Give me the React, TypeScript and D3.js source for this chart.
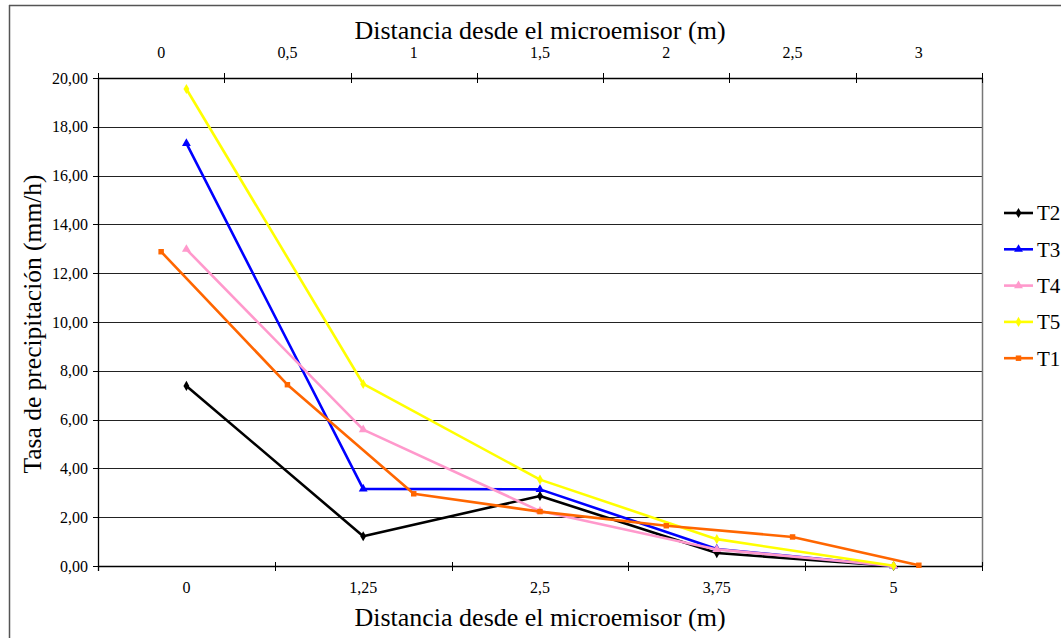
import React from "react";
import * as d3 from "d3";

// Bottom (primary) category axis: distance from the micro-sprinkler
const bottomCategories = ["0", "1,25", "2,5", "3,75", "5"];
// Top (secondary) category axis
const topCategories = ["0", "0,5", "1", "1,5", "2", "2,5", "3"];

// Precipitation rate (mm/h) per treatment
const t2Values = [7.38, 1.22, 2.87, 0.53, 0.0];
const t3Values = [17.32, 3.16, 3.14, 0.7, 0.0];
const t4Values = [12.98, 5.59, 2.25, 0.68, 0.0];
const t5Values = [19.55, 7.46, 3.54, 1.1, 0.01];
const t1Values = [12.88, 7.43, 2.96, 2.23, 1.65, 1.19, 0.03];

const yTicks = [0, 2, 4, 6, 8, 10, 12, 14, 16, 18, 20];

type Shape = "diamond" | "triangle" | "square";

interface Series {
  name: string;
  values: number[];
  color: string;
  shape: Shape;
  axis: "bottom" | "top";
}

const seriesList: Series[] = [
  { name: "T2", values: t2Values, color: "#000000", shape: "diamond", axis: "bottom" },
  { name: "T3", values: t3Values, color: "#0000FF", shape: "triangle", axis: "bottom" },
  { name: "T4", values: t4Values, color: "#FF99CC", shape: "triangle", axis: "bottom" },
  { name: "T5", values: t5Values, color: "#FFFF00", shape: "diamond", axis: "bottom" },
  { name: "T1", values: t1Values, color: "#FF6600", shape: "square", axis: "top" },
];

const W = 1061;
const H = 638;
const plot = { left: 98, right: 982, top: 78, bottom: 566 };
const serif = { fontFamily: "Liberation Serif" };

const fmt = (v: number) => v.toFixed(2).replace(".", ",");

const symbolFor = (shape: Shape) => {
  if (shape === "diamond") return d3.symbol(d3.symbolDiamond, 30)();
  if (shape === "triangle") return d3.symbol(d3.symbolTriangle, 34)();
  return d3.symbol(d3.symbolSquare, 30)();
};

export default function App() {
  const xBottom = d3
    .scaleBand<string>()
    .domain(bottomCategories)
    .range([plot.left, plot.right]);
  const xTop = d3
    .scaleBand<string>()
    .domain(topCategories)
    .range([plot.left, plot.right]);
  const y = d3.scaleLinear().domain([0, 20]).range([plot.bottom, plot.top]);

  const crisp = (v: number) => Math.round(v) + 0.5;

  const pointsOf = (s: Series) => {
    const cats = s.axis === "bottom" ? bottomCategories : topCategories;
    const sc = s.axis === "bottom" ? xBottom : xTop;
    return s.values.map((v, i) => [
      (sc(cats[i]) as number) + sc.bandwidth() / 2,
      y(v),
    ]) as [number, number][];
  };

  const line = d3.line<[number, number]>().x((d) => d[0]).y((d) => d[1]);

  const bottomTickPos = bottomCategories
    .map((c) => xBottom(c) as number)
    .concat([plot.right]);
  const topTickPos = topCategories
    .map((c) => xTop(c) as number)
    .concat([plot.right]);

  const legendY0 = 213;
  const legendStep = 36.3;

  return (
    <svg
      width={W}
      height={H}
      style={{ position: "absolute", left: 0, top: 0, background: "#fff" }}
    >
      <rect x={0} y={0} width={W} height={H} fill="#fff" />
      {/* outer chart frame */}
      <line x1={9} x2={W} y1={5.5} y2={5.5} stroke="#555" strokeWidth={1.5} />
      <line x1={9.5} x2={9.5} y1={5} y2={H} stroke="#555" strokeWidth={1.5} />

      {/* gridlines */}
      {yTicks.map((t) => (
        <line
          key={"g" + t}
          x1={plot.left}
          x2={plot.right}
          y1={crisp(y(t))}
          y2={crisp(y(t))}
          stroke="#222"
          strokeWidth={1}
        />
      ))}

      {/* plot right border */}
      <line
        x1={plot.right + 0.5}
        x2={plot.right + 0.5}
        y1={plot.top}
        y2={plot.bottom}
        stroke="#777"
        strokeWidth={1.5}
      />

      {/* left value axis */}
      <line
        x1={plot.left + 0.5}
        x2={plot.left + 0.5}
        y1={plot.top}
        y2={plot.bottom + 5}
        stroke="#000"
        strokeWidth={1.3}
      />
      {yTicks.map((t) => (
        <g key={"yt" + t}>
          <line
            x1={plot.left - 5}
            x2={plot.left}
            y1={crisp(y(t))}
            y2={crisp(y(t))}
            stroke="#000"
          />
          <text
            x={88}
            y={y(t)}
            dy="0.35em"
            textAnchor="end"
            fontSize={16}
            fill="#000"
            style={serif}
          >
            {fmt(t)}
          </text>
        </g>
      ))}

      {/* bottom category axis */}
      <line
        x1={plot.left}
        x2={plot.right}
        y1={crisp(plot.bottom)}
        y2={crisp(plot.bottom)}
        stroke="#000"
        strokeWidth={1.5}
      />
      {bottomTickPos.map((p, i) => (
        <line
          key={"bt" + i}
          x1={Math.round(p) + 0.5}
          x2={Math.round(p) + 0.5}
          y1={plot.bottom - 4}
          y2={plot.bottom + 5}
          stroke="#000"
        />
      ))}
      {bottomCategories.map((c) => (
        <text
          key={"bl" + c}
          x={(xBottom(c) as number) + xBottom.bandwidth() / 2}
          y={593}
          textAnchor="middle"
          fontSize={16}
          fill="#000"
          style={serif}
        >
          {c}
        </text>
      ))}

      {/* top category axis */}
      <line
        x1={plot.left}
        x2={plot.right}
        y1={crisp(plot.top)}
        y2={crisp(plot.top)}
        stroke="#000"
        strokeWidth={1.5}
      />
      {topTickPos.map((p, i) => (
        <line
          key={"tt" + i}
          x1={Math.round(p) + 0.5}
          x2={Math.round(p) + 0.5}
          y1={plot.top - 5}
          y2={plot.top + 5}
          stroke="#000"
        />
      ))}
      {topCategories.map((c) => (
        <text
          key={"tl" + c}
          x={(xTop(c) as number) + xTop.bandwidth() / 2}
          y={58}
          textAnchor="middle"
          fontSize={16}
          fill="#000"
          style={serif}
        >
          {c}
        </text>
      ))}

      {/* axis titles */}
      <text x={540} y={39} textAnchor="middle" fontSize={26} fill="#000" style={serif}>
        Distancia desde el microemisor (m)
      </text>
      <text x={540} y={626} textAnchor="middle" fontSize={26} fill="#000" style={serif}>
        Distancia desde el microemisor (m)
      </text>
      <text
        transform={`translate(41, 324) rotate(-90)`}
        textAnchor="middle"
        fontSize={25.5}
        fill="#000"
        style={serif}
      >
        Tasa de precipitación (mm/h)
      </text>

      {/* series */}
      {seriesList.map((s) => {
        const pts = pointsOf(s);
        return (
          <g key={s.name}>
            <path
              d={line(pts) as string}
              fill="none"
              stroke={s.color}
              strokeWidth={2.6}
              strokeLinejoin="round"
            />
            {pts.map((p, i) => (
              <path
                key={i}
                d={symbolFor(s.shape) as string}
                transform={`translate(${p[0]},${p[1]})`}
                fill={s.color}
              />
            ))}
          </g>
        );
      })}

      {/* legend */}
      {seriesList.map((s, i) => {
        const ly = legendY0 + i * legendStep;
        return (
          <g key={"lg" + s.name}>
            <line
              x1={1004}
              x2={1033}
              y1={ly}
              y2={ly}
              stroke={s.color}
              strokeWidth={2.6}
            />
            <path
              d={symbolFor(s.shape) as string}
              transform={`translate(1018.5,${ly})`}
              fill={s.color}
            />
            <text x={1037} y={ly} dy="0.35em" fontSize={21} fill="#000" style={serif}>
              {s.name}
            </text>
          </g>
        );
      })}
    </svg>
  );
}
